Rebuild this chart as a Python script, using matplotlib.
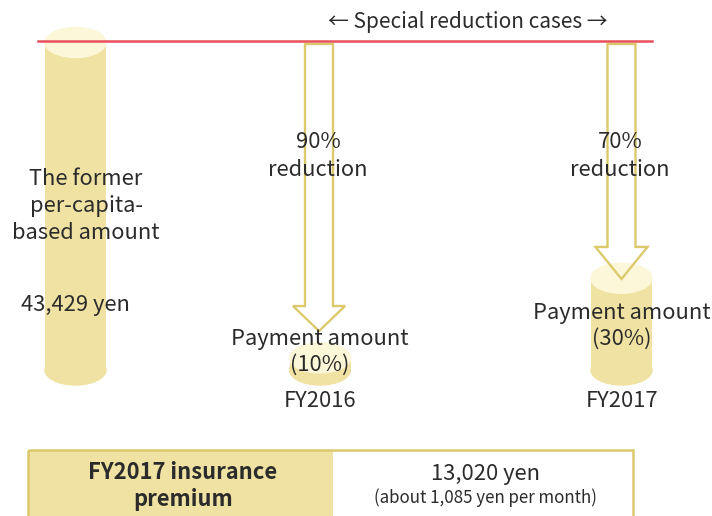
import matplotlib
matplotlib.use("Agg")
import matplotlib.pyplot as plt
from matplotlib.patches import Ellipse, Polygon, Rectangle

plt.rcParams['font.family'] = ['Noto Sans CJK JP', 'DejaVu Sans']

# data
# cylinder heights in % of the former per-capita amount (as drawn, schematic)
cyl_names = ["former", "FY2016", "FY2017"]
cyl_levels = [100, 3.7, 28]
arrow_tips = [11.9, 27.8]          # where the reduction arrows end (same scale)
reductions = ["90%\nreduction", "70%\nreduction"]
payments = ["Payment amount\n(10%)", "Payment amount\n(30%)"]
years = ["FY2016", "FY2017"]
former_label = "The former\nper-capita-\nbased amount"
former_amount = "43,429 yen"
premium_label = "FY2017 insurance\npremium"
premium_value = "13,020 yen"
premium_month = "(about 1,085 yen per month)"

BODY = "#f0e2a2"
TOP = "#fdf7d9"
EDGE = "#dcc96c"
RED = "#e8505b"
TXT = "#2b2b2b"

W, H = 712, 516
base_px = 370.0
px_per = 3.275          # pixels per % unit


def lv(px):
    return (base_px - px) / px_per


fig = plt.figure(figsize=(W / 100, H / 100), dpi=100)
axc = fig.add_axes([0, 0, 1, 1])
axc.set_xlim(0, W)
axc.set_ylim(lv(H), lv(0))
axc.axis("off")

ax = fig.add_axes([0, 0, 1, 1], zorder=2)
ax.set_xlim(0, W)
ax.set_ylim(H, 0)
ax.patch.set_alpha(0)
ax.axis("off")

# cylinders
cx = [75.5, 320, 621.5]
cw = 61
eh = 30 / px_per
axc.bar(cx, cyl_levels, width=cw, color=BODY, zorder=1)
for x, v in zip(cx, cyl_levels):
    axc.add_patch(Ellipse((x, 0), cw, eh, color=BODY, zorder=1))
    axc.add_patch(Ellipse((x, v), cw, eh, color=TOP, zorder=2))

# red line at the former level
axc.plot([38, 652], [lv(41), lv(41)], color=RED, lw=1.8, zorder=5)

# reduction arrows
arrow_x = [cx[1] - 1, cx[2]]
head_len = [25, 32]
for x, tip, hl in zip(arrow_x, arrow_tips, head_len):
    top = lv(44)
    hb = tip + hl / px_per
    pts = [(x - 14, top), (x + 14, top), (x + 14, hb), (x + 26, hb),
           (x, tip), (x - 26, hb), (x - 14, hb)]
    axc.add_patch(Polygon(pts, closed=True, fill=False, edgecolor=EDGE,
                          lw=1.7, joinstyle="miter", zorder=4))

# texts
fs = 15.8
ax.text(468, 22, "\u2190 Special reduction cases \u2192", ha="center", va="center",
        fontsize=15, color=TXT)
ax.text(86, 206, former_label, ha="center", va="center", fontsize=fs, color=TXT,
        linespacing=1.32)
ax.text(75, 305, former_amount, ha="center", va="center", fontsize=fs, color=TXT)
for x, r, p, y, py in zip([318, 620], reductions, payments, years, [352, 326]):
    ax.text(x, 156, r, ha="center", va="center", fontsize=fs, color=TXT, linespacing=1.32)
    ax.text(x + 2, py, p, ha="center", va="center", fontsize=fs, color=TXT, linespacing=1.25)
    ax.text(x + 2, 401, y, ha="center", va="center", fontsize=fs, color=TXT)

# premium box
ax.add_patch(Rectangle((28, 450), 305, 80, facecolor=BODY, edgecolor="none"))
ax.add_patch(Rectangle((28, 450), 605, 80, facecolor="none", edgecolor=EDGE, lw=1.8))
ax.text(183, 486, premium_label, ha="center", va="center", fontsize=fs, color=TXT,
        fontweight="bold", linespacing=1.25)
ax.text(485.5, 474, premium_value, ha="center", va="center", fontsize=fs, color=TXT)
ax.text(485.5, 498, premium_month, ha="center", va="center", fontsize=12.2, color=TXT)

fig.savefig("out.png", dpi=100)
